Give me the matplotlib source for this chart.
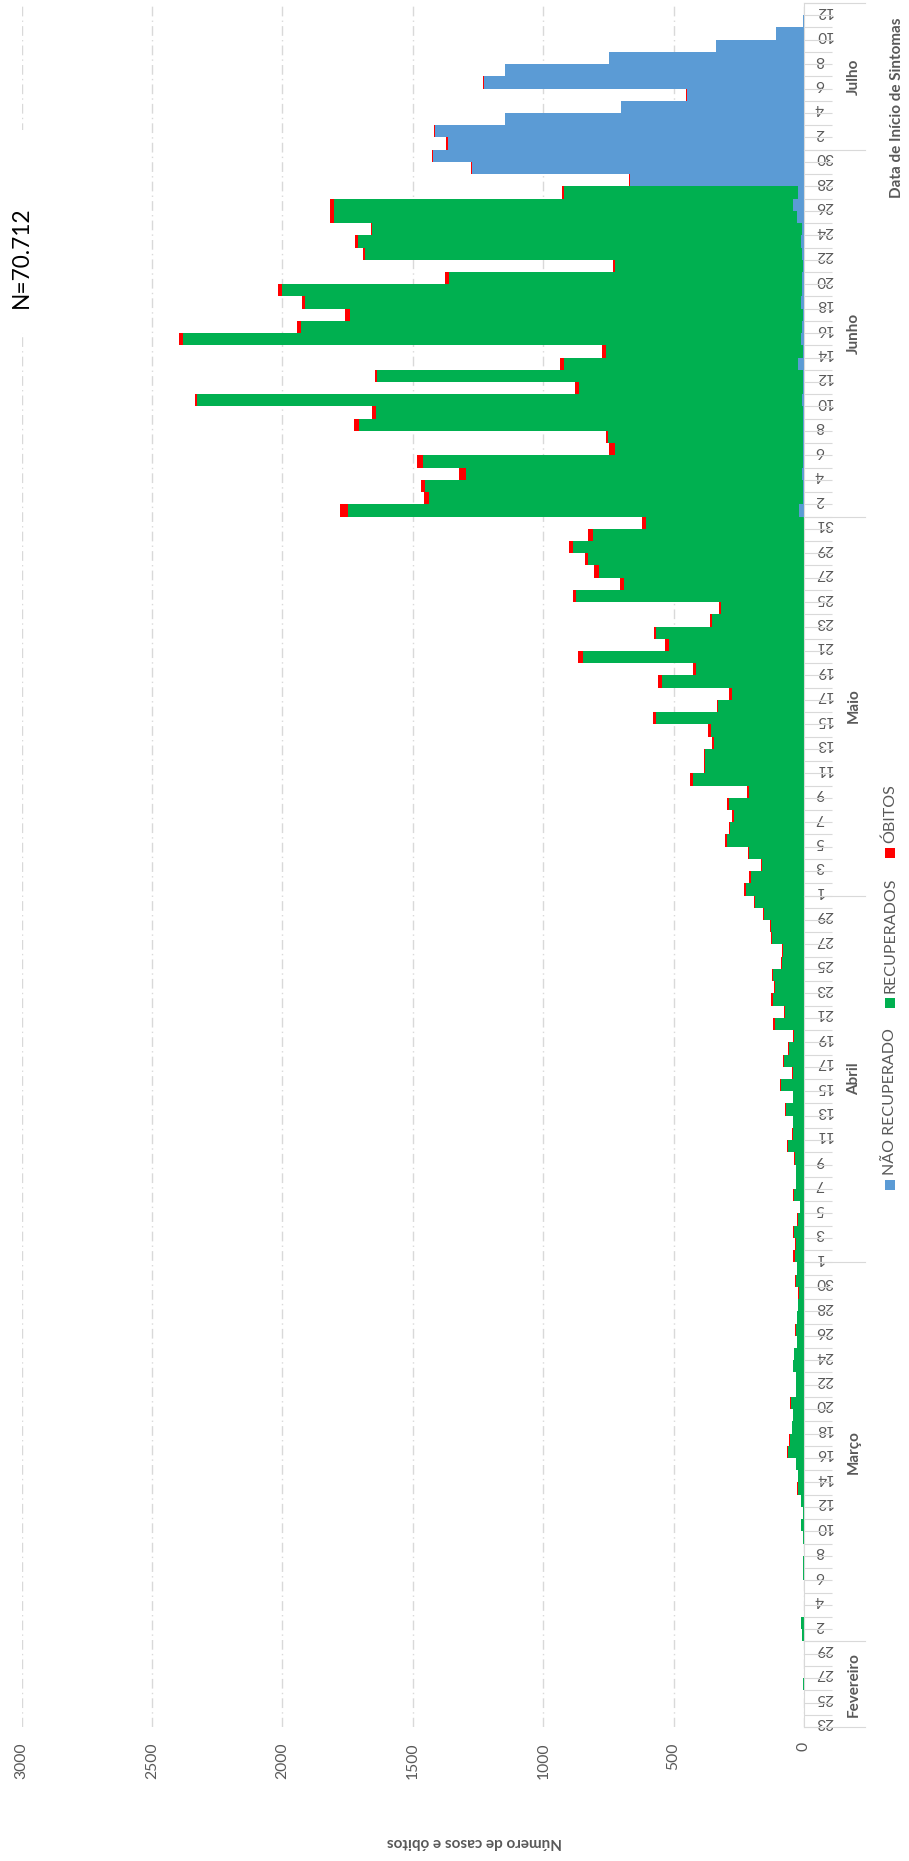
import numpy as np
import pandas as pd
import matplotlib
matplotlib.use('Agg')
import matplotlib.pyplot as plt
from matplotlib.patches import Rectangle

plt.rcParams['font.family'] = ['Lato', 'DejaVu Sans']

# one value per day, 23/02/2020 to 12/07/2020
dias = pd.date_range('2020-02-23', '2020-07-12', freq='D')
meses = ['Fevereiro', 'Março', 'Abril', 'Maio', 'Junho', 'Julho']

nao_recuperado = (
    [0] * 7 +                      # fev
    [0] * 31 +                     # mar
    [0] * 30 +                     # abr
    [0] * 31 +                     # mai
    [18, 3, 2, 9, 2, 3, 3, 3, 3, 9, 3, 4, 22, 5, 11, 7, 5, 13, 6, 7,
     4, 9, 13, 6, 28, 41, 22, 669, 1274, 1423] +
    [1366, 1414, 1147, 700, 450, 1228, 1146, 746, 338, 107, 3, 0]
)
recuperados = (
    [1, 1, 0, 4, 1, 1, 0] +
    [7, 11, 0, 0, 0, 3, 2, 1, 3, 12, 5, 12, 23, 23, 31, 61, 54, 46, 43, 49,
     31, 31, 41, 37, 26, 31, 26, 23, 21, 32, 27] +
    [36, 32, 38, 23, 15, 38, 29, 29, 36, 60, 42, 41, 69, 41, 90, 44, 77, 58, 38, 113,
     74, 120, 112, 119, 83, 82, 124, 128, 154, 186] +
    [222, 205, 161, 211, 297, 285, 269, 288, 211, 426, 380, 380, 346, 358, 569, 328,
     275, 546, 415, 849, 518, 566, 354, 318, 875, 689, 787, 829, 884, 811, 604] +
    [1732, 1435, 1450, 1289, 1458, 720, 748, 1704, 1639, 2319, 861, 1632, 900, 755,
     2369, 1922, 1735, 1901, 1994, 1356, 719, 1675, 1697, 1651, 1775, 1762, 897, 0, 0, 0] +
    [0] * 12
)
obitos = (
    [0] * 7 +
    [0, 0, 0, 0, 0, 0, 0, 0, 0, 0, 0, 1, 3, 1, 1, 3, 2, 1, 1, 3,
     1, 1, 2, 3, 1, 2, 1, 1, 1, 4, 1] +
    [5, 3, 3, 3, 1, 4, 3, 1, 2, 5, 4, 3, 4, 3, 2, 2, 4, 2, 3, 5,
     3, 6, 3, 4, 4, 3, 3, 4, 4, 5] +
    [7, 6, 4, 4, 6, 4, 6, 6, 6, 11, 5, 5, 5, 10, 9, 6, 13, 15, 9, 18,
     16, 9, 7, 7, 11, 15, 19, 11, 19, 16, 17] +
    [28, 18, 17, 25, 26, 25, 9, 18, 13, 9, 13, 11, 13, 15, 17, 15, 19, 11, 18, 15,
     8, 8, 11, 3, 13, 13, 10, 4, 4, 4] +
    [5, 4, 1, 3, 3, 3, 1, 1, 0, 0, 0, 0]
)

AZUL, VERDE, VERMELHO = '#5B9BD5', '#00B050', '#FF0000'
CINZA, TEXTO = '#D9D9D9', '#595959'

W, H = 909, 1861
def fx(px): return px / W
def fy(py): return 1 - py / H

fig = plt.figure(figsize=(W / 100, H / 100), dpi=100)
x0, x1, y0, y1 = 21.7, 804, 3, 1727
ax = fig.add_axes([fx(x0), fy(y1), (x1 - x0) / W, (y1 - y0) / H])

y = np.arange(len(dias))
nr = np.array(nao_recuperado)
rec = np.array(recuperados)
ob = np.array(obitos)
ax.barh(y, nr, height=1.0, color=AZUL, zorder=2)
ax.barh(y, rec, left=nr, height=1.0, color=VERDE, zorder=2)
ax.barh(y, ob, left=nr + rec, height=1.0, color=VERMELHO, zorder=2)

ax.set_xlim(3000, 0)
ax.set_ylim(-0.5, len(dias) - 0.5)

ax.set_xticks(range(0, 3001, 500))
ax.set_xticklabels([str(v) for v in range(0, 3001, 500)], rotation=90,
                   fontsize=11.3, color=TEXTO)
ax.tick_params(axis='x', length=0, pad=11)
ax.grid(axis='x', color=CINZA, linestyle=(0, (7, 3, 1, 3)), linewidth=1)
ax.set_axisbelow(True)

for s in ['top', 'left', 'bottom']:
    ax.spines[s].set_visible(False)
ax.spines['right'].set_color(CINZA)

ax.yaxis.tick_right()
ax.set_yticks(y[::2])
ax.set_yticklabels([str(d.day) for d in dias[::2]], rotation=180,
                   fontsize=11, color=TEXTO)
ax.set_yticks(np.arange(-0.5, len(dias), 1), minor=True)
ax.tick_params(axis='y', which='major', length=0, pad=8)
ax.tick_params(axis='y', which='minor', length=20, color=CINZA, width=0.8)

# month separators and labels
ax_w = x1 - x0
limites = [0]
for i in range(1, len(dias)):
    if dias[i].month != dias[i - 1].month:
        limites.append(i)
limites.append(len(dias))
tr = ax.get_yaxis_transform()
for b in limites:
    ax.plot([1, (865 - x0) / ax_w], [b - 0.5, b - 0.5], transform=tr,
            color=CINZA, lw=0.8, clip_on=False)
for k, mes in enumerate(meses):
    c = (limites[k] + limites[k + 1] - 1) / 2
    ax.text((854 - x0) / ax_w, c, mes, transform=tr, rotation=90,
            ha='center', va='center', fontsize=11, fontweight='bold', color=TEXTO)

# legend (rotated)
itens = [('NÃO RECUPERADO', AZUL, 1190, 1175),
         ('RECUPERADOS', VERDE, 1008, 993),
         ('ÓBITOS', VERMELHO, 858, 843)]
for nome, cor, sq, ty in itens:
    fig.add_artist(Rectangle((fx(885), fy(sq)), 10 / W, 10 / H,
                             transform=fig.transFigure, facecolor=cor, edgecolor='none'))
    fig.text(fx(890), fy(ty), nome, rotation=90, ha='center', va='bottom',
             fontsize=11.5, color=TEXTO)

fig.text(fx(897), fy(108), 'Data de Início de Sintomas', rotation=90,
         ha='center', va='center', fontsize=11, fontweight='bold', color=TEXTO)
fig.text(fx(474), fy(1842), 'Número de casos e óbitos', rotation=180,
         ha='center', va='center', fontsize=11, fontweight='bold', color=TEXTO)

fig.add_artist(Rectangle((fx(4), fy(333)), 38 / W, 203 / H, transform=fig.transFigure,
                         facecolor='white', edgecolor='none', zorder=5))
fig.text(fx(21), fy(257), 'N=70.712', rotation=90, ha='center', va='center',
         fontsize=16.3, color='black', zorder=6)

fig.savefig('out.png', dpi=100)
